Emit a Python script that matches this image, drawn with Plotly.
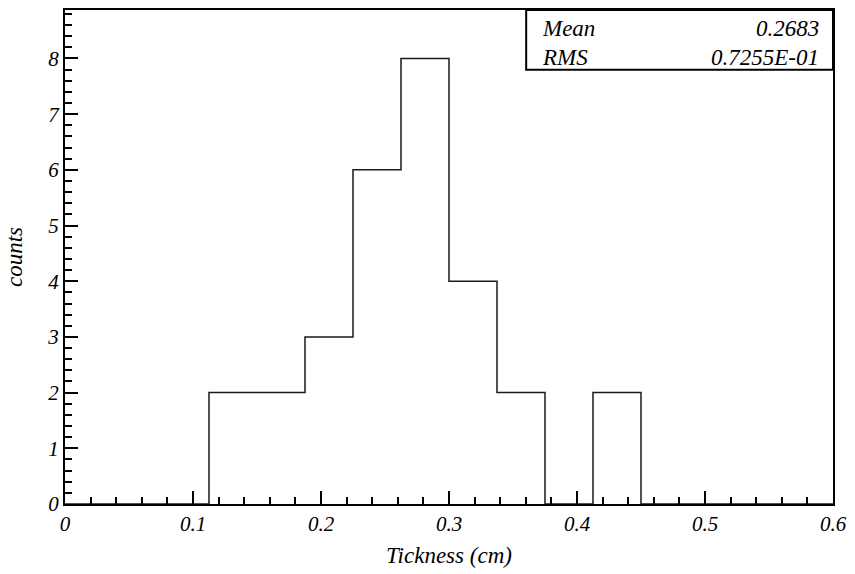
import math
import plotly.graph_objects as go

# Histogram of measured thickness: 16 equal bins from 0 to 0.6 cm
bin_low = 0.0
bin_width = 0.0375
counts = [0, 0, 0, 2, 2, 3, 6, 8, 4, 2, 0, 2, 0, 0, 0, 0]

x_ticks = [0, 0.1, 0.2, 0.3, 0.4, 0.5, 0.6]
x_ticklabels = ["0", "0.1", "0.2", "0.3", "0.4", "0.5", "0.6"]
y_ticks = [0, 1, 2, 3, 4, 5, 6, 7, 8]
y_ticklabels = ["0", "1", "2", "3", "4", "5", "6", "7", "8"]

edges = [bin_low + i * bin_width for i in range(len(counts) + 1)]
centers = [(edges[i] + edges[i + 1]) / 2 for i in range(len(counts))]

# Summary statistics, computed from bin centres as in PAW/HBOOK
n = sum(counts)
mean = sum(c * x for c, x in zip(counts, centers)) / n
rms = math.sqrt(sum(c * x * x for c, x in zip(counts, centers)) / n - mean ** 2)


def paw_format(v):
    exp = math.floor(math.log10(abs(v))) + 1
    if exp == 0:
        return f"{v:.4f}"
    return f"{v / 10 ** exp:.4f}E{exp:+03d}"


stat_names = ["Mean", "RMS"]
stat_values = [paw_format(mean), paw_format(rms)]

serif = "Liberation Serif"
tick_font = dict(family=serif, size=21, color="black", style="italic")
title_font = dict(family=serif, size=23, color="black", style="italic")
stat_font = dict(family=serif, size=23, color="black", style="italic")

fig = go.Figure()
fig.add_trace(go.Scatter(
    x=edges,
    y=counts + [counts[-1]],
    mode="lines",
    line=dict(shape="hv", color="#1a1a1a", width=1.5),
    hoverinfo="skip",
    showlegend=False,
))

axis_common = dict(
    showline=True, linecolor="black", linewidth=2, mirror=True,
    showgrid=False, zeroline=False,
    ticks="inside", tickcolor="black", tickwidth=1.5, ticklen=13,
    tickfont=tick_font,
)

fig.update_xaxes(
    range=[0, 0.6], tickvals=x_ticks, ticktext=x_ticklabels,
    minor=dict(dtick=0.02, ticks="inside", ticklen=7, tickcolor="black", tickwidth=1.5),
    title=dict(text="Tickness (cm)", standoff=12, font=title_font),
    **axis_common,
)
fig.update_yaxes(
    range=[0, 8.87], tickvals=y_ticks, ticktext=y_ticklabels,
    minor=dict(dtick=0.2, ticks="inside", ticklen=7, tickcolor="black", tickwidth=1.5),
    title=dict(text="counts", standoff=18, font=title_font),
    **axis_common,
)

# Statistics box in the upper right corner
fig.add_shape(type="rect", xref="paper", yref="paper",
              x0=0.6005, x1=1.0, y0=0.879, y1=1.0,
              line=dict(color="black", width=2), fillcolor="white", layer="above")
stat_rows_y = [0.962, 0.903]
for name, val, yy in zip(stat_names, stat_values, stat_rows_y):
    fig.add_annotation(xref="paper", yref="paper", x=0.618, y=yy, text=name,
                       showarrow=False, xanchor="left", yanchor="middle",
                       font=stat_font)
    fig.add_annotation(xref="paper", yref="paper", x=0.985, y=yy, text=val,
                       showarrow=False, xanchor="right", yanchor="middle",
                       font=stat_font)

fig.update_layout(
    width=855, height=574,
    margin=dict(l=65, r=19, t=8, b=70),
    paper_bgcolor="white", plot_bgcolor="white",
)

fig.write_html("out.html")
